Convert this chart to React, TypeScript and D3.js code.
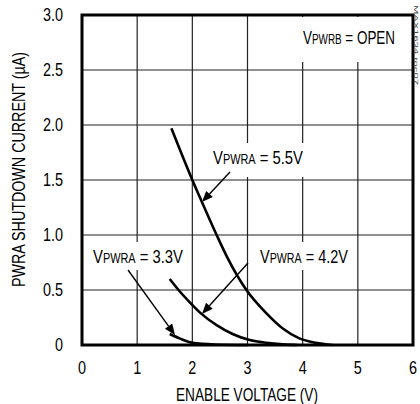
import React from "react";
import * as d3 from "d3";

const xTicks = [0, 1, 2, 3, 4, 5, 6];
const yTicks = [0, 0.5, 1.0, 1.5, 2.0, 2.5, 3.0];
const yTickLabels = ["0", "0.5", "1.0", "1.5", "2.0", "2.5", "3.0"];

const v55X = [1.62, 2.0, 2.2, 2.44, 2.64, 2.98, 3.34, 3.64, 3.94, 4.24, 4.54];
const v55Y = [1.97, 1.5, 1.27, 1.0, 0.79, 0.5, 0.29, 0.15, 0.06, 0.02, 0.0];
const v42X = [1.59, 1.75, 1.95, 2.15, 2.44, 2.73, 3.04, 3.34, 3.64, 3.9];
const v42Y = [0.6, 0.5, 0.39, 0.29, 0.18, 0.1, 0.045, 0.02, 0.006, 0.0];
const v33X = [1.59, 1.77, 2.0, 2.4, 3.0];
const v33Y = [0.1, 0.06, 0.02, 0.005, 0.0];

const W = 420, H = 404;
const FONT = "'Liberation Sans', Arial, sans-serif";
const SX = 0.8;

export default function App() {
  const x = d3.scaleLinear().domain([0, 6]).range([82, 413]);
  const y = d3.scaleLinear().domain([0, 3]).range([345, 15]);
  const line = d3
    .line<[number, number]>()
    .x((d) => x(d[0]))
    .y((d) => y(d[1]))
    .curve(d3.curveMonotoneX);
  const zip = (a: number[], b: number[]) => a.map((v, i) => [v, b[i]] as [number, number]);

  const arrow = (x1: number, y1: number, x2: number, y2: number, key: string) => {
    const ang = Math.atan2(y2 - y1, x2 - x1);
    const L = 11, Wd = 4.5;
    const bx = x2 - L * Math.cos(ang), by = y2 - L * Math.sin(ang);
    const px = -Math.sin(ang) * Wd, py = Math.cos(ang) * Wd;
    return (
      <g key={key}>
        <line x1={x1} y1={y1} x2={bx} y2={by} stroke="#000" strokeWidth={1.4} />
        <polygon points={`${x2},${y2} ${bx + px},${by + py} ${bx - px},${by - py}`} fill="#000" />
      </g>
    );
  };

  const label = (tx: number, ty: number, sub: string, rest: string, len: number, key: string) => (
    <text key={key} x={tx} y={ty} fontSize={19} fontFamily={FONT} fill="#000" textLength={len} lengthAdjust="spacingAndGlyphs">
      V<tspan fontSize={14}>{sub}</tspan>
      <tspan>{rest}</tspan>
    </text>
  );

  return (
    <svg width={W} height={H} style={{ position: "absolute", left: 0, top: 0, background: "#fff" }}>
      <rect x={0} y={0} width={W} height={H} fill="#fff" />
      {/* grid */}
      {xTicks.slice(1, -1).map((t) => (
        <line key={"gx" + t} x1={x(t)} x2={x(t)} y1={y(3)} y2={y(0)} stroke="#222" strokeWidth={1.2} />
      ))}
      {yTicks.slice(1, -1).map((t) => (
        <line key={"gy" + t} x1={x(0)} x2={x(6)} y1={y(t)} y2={y(t)} stroke="#222" strokeWidth={1.2} />
      ))}
      {/* label backgrounds */}
      <rect x={298} y={17} width={104} height={45} fill="#fff" />
      <rect x={208} y={143} width={100} height={34} fill="#fff" />
      <rect x={88} y={242} width={100} height={28} fill="#fff" />
      <rect x={255} y={242} width={98} height={28} fill="#fff" />
      {/* frame */}
      <rect x={x(0)} y={y(3)} width={x(6) - x(0)} height={y(0) - y(3)} fill="none" stroke="#000" strokeWidth={3} />
      {/* curves */}
      <path d={line(zip(v55X, v55Y)) || ""} fill="none" stroke="#000" strokeWidth={2.6} />
      <path d={line(zip(v42X, v42Y)) || ""} fill="none" stroke="#000" strokeWidth={2.6} />
      <path d={line(zip(v33X, v33Y)) || ""} fill="none" stroke="#000" strokeWidth={2.6} />
      {/* arrows */}
      {arrow(230, 172, 202, 202, "a55")}
      {arrow(248, 263, 202, 314, "a42")}
      {arrow(128, 270, 175, 335, "a33")}
      {/* labels */}
      {label(303, 44, "PWRB", " = OPEN", 92, "l1")}
      {label(213, 164, "PWRA", " = 5.5V", 90, "l2")}
      {label(93, 263, "PWRA", " = 3.3V", 90, "l3")}
      {label(260, 263, "PWRA", " = 4.2V", 88, "l4")}
      {/* y tick labels */}
      {yTicks.map((t, i) => (
        <text key={"yt" + t} transform={`translate(63,${y(t)}) scale(${SX},1)`} dy="0.35em" textAnchor="end" fontSize={18} fontFamily={FONT}>
          {yTickLabels[i]}
        </text>
      ))}
      {/* x tick labels */}
      {xTicks.map((t) => (
        <text key={"xt" + t} transform={`translate(${x(t)},374) scale(${SX},1)`} textAnchor="middle" fontSize={18} fontFamily={FONT}>
          {t}
        </text>
      ))}
      <text x={176} y={401} fontSize={18} fontFamily={FONT} textLength={142} lengthAdjust="spacingAndGlyphs">
        ENABLE VOLTAGE (V)
      </text>
      <text transform={`translate(25,287) rotate(-90)`} fontSize={18} fontFamily={FONT} textLength={235} lengthAdjust="spacingAndGlyphs">
        PWRA SHUTDOWN CURRENT (µA)
      </text>
      <text transform={`translate(414,5) rotate(90)`} fontSize={6} fontFamily={FONT} fill="#444" textLength={80} lengthAdjust="spacingAndGlyphs">
        MAX1634 toc07
      </text>
    </svg>
  );
}
